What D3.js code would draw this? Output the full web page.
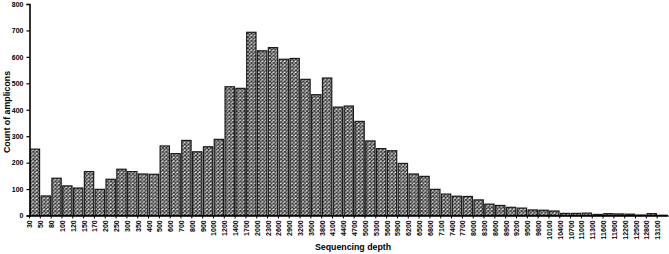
<!DOCTYPE html>
<html><head><meta charset="utf-8">
<script src="https://cdn.jsdelivr.net/npm/d3@7"></script>
<style>body{margin:0;background:#fff}text{font-family:"Liberation Sans",Arial,sans-serif;font-weight:bold}</style>
</head><body><svg id="c" width="669" height="254"></svg>
<script>
const categories = ["30","50","80","100","120","150","170","200","250","300","350","400","500","600","700","800","900","1000","1200","1400","1700","2000","2300","2600","2900","3200","3500","3800","4100","4400","4700","5000","5300","5600","5900","6200","6500","6800","7100","7400","7700","8000","8300","8600","8900","9200","9500","9800","10100","10400","10700","11000","11300","11600","11900","12200","12500","12800","13100"];
const counts = [251,74,141,112,104,166,99,137,175,166,157,156,263,234,284,241,260,288,487,481,693,623,635,591,594,515,457,520,410,414,356,282,253,245,197,157,148,99,81,73,72,59,43,38,31,28,21,20,17,8,8,9,4,7,6,5,2,7,1];
const yTicks = [0,100,200,300,400,500,600,700,800];
const xTitle = "Sequencing depth", yTitle = "Count of amplicons";

const svg = d3.select("#c");
const m = {l:29.5, r:668, t:4, b:215.5};
const defs = svg.append("defs");
const P = 3.7;
const pat = defs.append("pattern").attr("id","hatch").attr("patternUnits","userSpaceOnUse")
  .attr("width",P).attr("height",P);
pat.append("rect").attr("width",P).attr("height",P).attr("fill","#fff");
pat.append("path").attr("d",`M0,0L${P},${P}M${P},0L0,${P}`).attr("stroke","#3a3a3a").attr("stroke-width",1.3);

const x = d3.scaleBand().domain(categories).range([m.l, m.r]).paddingInner(0.14).paddingOuter(0.07);
const y = d3.scaleLinear().domain([0,800]).range([m.b, m.t]);

svg.append("g").selectAll("rect").data(categories).join("rect")
  .attr("x", d=>x(d)).attr("width", x.bandwidth())
  .attr("y", (d,i)=>y(counts[i])).attr("height",(d,i)=>m.b - y(counts[i]))
  .attr("fill","url(#hatch)").attr("stroke","#1a1a1a").attr("stroke-width",1.2);

const ya = svg.append("g").attr("transform",`translate(${m.l},0)`)
  .call(d3.axisLeft(y).tickValues(yTicks).tickSize(3).tickPadding(3));
ya.select(".domain").attr("stroke","#000").attr("stroke-width",1.6);
ya.selectAll(".tick line").attr("stroke","#000").attr("stroke-width",1.2);
ya.selectAll("text").attr("font-size",7).attr("fill","#000");

const xa = svg.append("g").attr("transform",`translate(0,${m.b})`)
  .call(d3.axisBottom(x).tickSize(0).tickPadding(4));
xa.select(".domain").attr("stroke","#000").attr("stroke-width",1.6);
xa.selectAll("text").attr("font-size",7).attr("fill","#000")
  .attr("transform","rotate(-90)").attr("text-anchor","end").attr("dx","-0.4em").attr("dy","-0.35em").attr("y",0).attr("x",-2);
const step = x.step();
svg.append("g").selectAll("line").data(categories).join("line")
  .attr("x1",d=>x(d)-step*x.paddingInner()/2).attr("x2",d=>x(d)-step*x.paddingInner()/2)
  .attr("y1",m.b).attr("y2",m.b+3).attr("stroke","#000").attr("stroke-width",1);

svg.append("text").attr("x",353).attr("y",250).attr("text-anchor","middle")
  .attr("font-size",8.8).text(xTitle);
svg.append("text").attr("transform",`translate(10,112) rotate(-90)`).attr("text-anchor","middle")
  .attr("font-size",8.8).text(yTitle);
</script></body></html>
